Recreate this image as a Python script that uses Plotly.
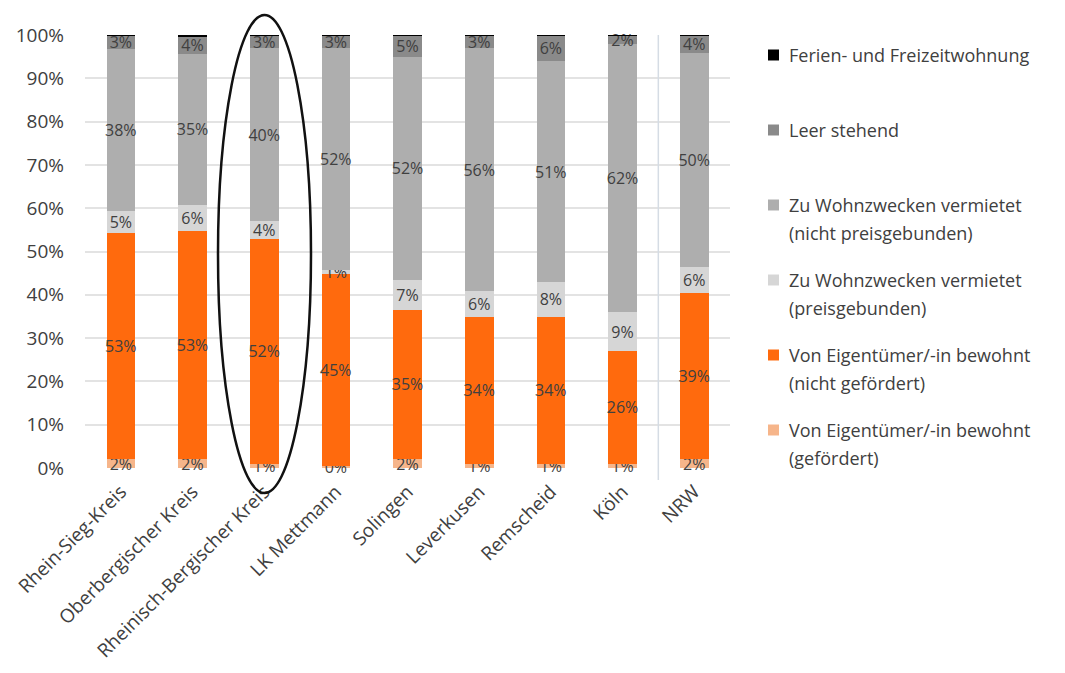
import plotly.graph_objects as go

# Wohnungsbestand nach Nutzungsart, Anteile je Gebiet (in %)
regionen = ["Rhein-Sieg-Kreis", "Oberbergischer Kreis", "Rheinisch-Bergischer Kreis",
            "LK Mettmann", "Solingen", "Leverkusen", "Remscheid", "Köln", "NRW"]
eigen_gefoerdert = [2, 2, 1, 0.4, 2, 1, 1, 1, 2]
eigen_nicht_gefoerdert = [53, 53, 52, 45, 35, 34, 34, 26, 39]
miete_preisgebunden = [5, 6, 4, 1, 7, 6, 8, 9, 6]
miete_nicht_preisgebunden = [38, 35, 40, 52, 52, 56, 51, 62, 50]
leer_stehend = [3, 4, 3, 3, 5, 3, 6, 2, 4]
ferienwohnung = [0.2, 0.4, 0.1, 0.1, 0.1, 0.1, 0.1, 0.1, 0.2]

FONT = "Open Sans"
TXT = "#404040"

serien = [
    ("Von Eigentümer/-in bewohnt<br>(gefördert)", eigen_gefoerdert, "#F6B58A", True),
    ("Von Eigentümer/-in bewohnt<br>(nicht gefördert)", eigen_nicht_gefoerdert, "#FF6A0D", True),
    ("Zu Wohnzwecken vermietet<br>(preisgebunden)", miete_preisgebunden, "#D6D6D6", True),
    ("Zu Wohnzwecken vermietet<br>(nicht preisgebunden)", miete_nicht_preisgebunden, "#AEAEAE", True),
    ("Leer stehend", leer_stehend, "#8A8A8A", True),
    ("Ferien- und Freizeitwohnung", ferienwohnung, "#000000", False),
]

fig = go.Figure()
for name, werte, farbe, beschriften in serien:
    fig.add_trace(go.Bar(
        x=regionen, y=werte, name=name.replace("<br>", " "), showlegend=False,
        marker=dict(color=farbe, line=dict(width=0)),
        text=[f"{round(v)}%" for v in werte] if beschriften else None,
        textposition="inside" if beschriften else "none",
        insidetextanchor="middle", textangle=0, cliponaxis=False,
        textfont=dict(family=FONT, size=16, color=TXT),
    ))

L, R, T, B = 85, 335, 35, 205
W, H = 1065, 673
pw, ph = W - L - R, H - T - B

def px(x):
    return (x - L) / pw

def py(y):
    return (H - B - y) / ph

shapes = [
    # Trennlinie vor NRW
    dict(type="line", xref="x", yref="paper", x0=7.5, x1=7.5, y0=py(480), y1=1,
         line=dict(color="#D5DCE4", width=1.5)),
    # Hervorhebung Rheinisch-Bergischer Kreis
    dict(type="circle", xref="paper", yref="paper",
         x0=px(218), x1=px(311), y0=py(493), y1=py(15),
         line=dict(color="#111111", width=2.5)),
]

# Legende rechts, gleichmäßig verteilt (oberster Eintrag = oberste Serie)
annotations = []
LEG_X, LEG_Y0, LEG_STEP, LINE_STEP, BOX = 768, 55, 75, 28, 11
for k, (name, werte, farbe, _) in enumerate(reversed(serien)):
    yc = LEG_Y0 + k * LEG_STEP
    shapes.append(dict(type="rect", xref="paper", yref="paper",
                       x0=px(LEG_X), x1=px(LEG_X + BOX),
                       y0=py(yc + BOX / 2), y1=py(yc - BOX / 2),
                       fillcolor=farbe, line=dict(width=0)))
    for j, zeile in enumerate(name.split("<br>")):
        annotations.append(dict(
            text=zeile, xref="paper", yref="paper",
            x=px(LEG_X + BOX + 8), y=py(yc + j * LINE_STEP),
            xanchor="left", yanchor="middle", showarrow=False,
            font=dict(family=FONT, size=18, color=TXT),
        ))

fig.update_layout(
    width=W, height=H,
    barmode="stack", barnorm="percent", bargap=0.6,
    plot_bgcolor="white", paper_bgcolor="white",
    margin=dict(l=L, r=R, t=T, b=B, autoexpand=False),
    font=dict(family=FONT, color=TXT),
    uniformtext=dict(mode="show", minsize=16),
    shapes=shapes, annotations=annotations,
    showlegend=False,
    xaxis=dict(
        tickangle=-45, tickfont=dict(family=FONT, size=19, color=TXT),
        showgrid=False, showline=False, ticks="", ticklabelstandoff=8,
    ),
    yaxis=dict(
        range=[0, 100], dtick=10, ticksuffix="%",
        tickfont=dict(family=FONT, size=19, color=TXT),
        showgrid=True, gridcolor="#E3E3E3", gridwidth=1.5,
        zeroline=False, ticks="", ticklabelstandoff=20,
    ),
)

fig.write_html("out.html")
